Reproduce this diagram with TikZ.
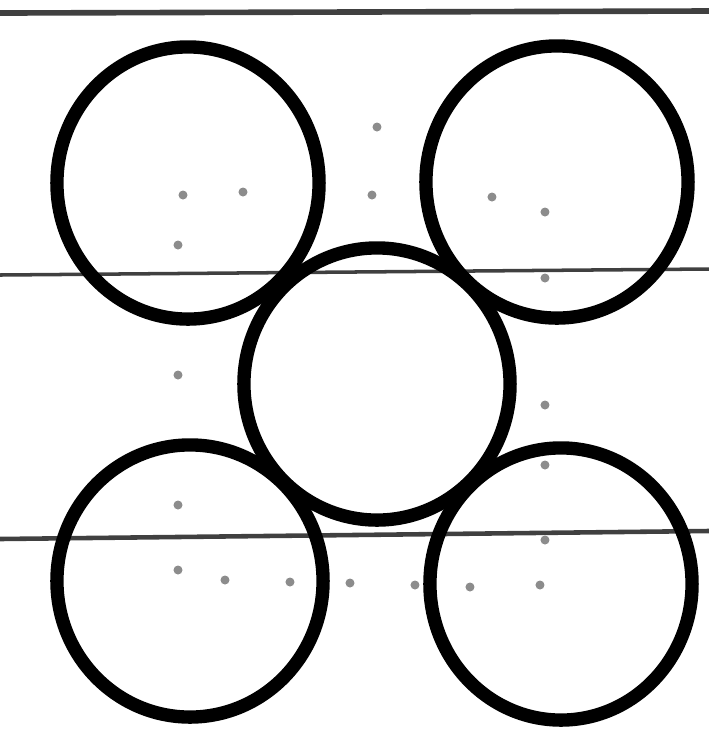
\documentclass[tikz,border=0pt]{standalone}
\usepackage{tikz}
\usetikzlibrary{shapes.geometric}

\begin{document}
\begin{tikzpicture}[
    x=0.01cm,
    y=-0.01cm,
    ring/.style={draw=black, ellipse, line width=3.8pt, minimum width=2.62cm, minimum height=2.72cm, inner sep=0pt},
    rule/.style={draw=black!75, line width=1.2pt},
    speck/.style={fill=black!45, draw=none, circle, minimum size=0.09cm, inner sep=0pt}
]
\useasboundingbox (0,0) rectangle (709,729);

% ruled lines of the page
\draw[rule, line width=1.6pt] (0,13) -- (709,11);
\draw[rule, line width=1.0pt] (0,275) -- (709,269);
\draw[rule, line width=1.3pt] (0,539) -- (709,531);

% the five circles
\node[ring] (tl) at (188,183) {};
\node[ring] (tr) at (557,182) {};
\node[ring, minimum width=2.66cm] (mid) at (377,384) {};
\node[ring, minimum width=2.66cm] (bl) at (190,581) {};
\node[ring] (br) at (561,584) {};

% faint specks between the circles
\foreach \p [count=\i] in {(183,195),(243,192),(178,245),(377,127),(372,195),(492,197),(545,212),
    (178,375),(545,278),(545,405),(545,465),(178,505),(545,540),
    (178,570),(225,580),(290,582),(350,583),(415,585),(470,587),(540,585)}
  \node[speck] (s\i) at \p {};
\end{tikzpicture}
\end{document}
